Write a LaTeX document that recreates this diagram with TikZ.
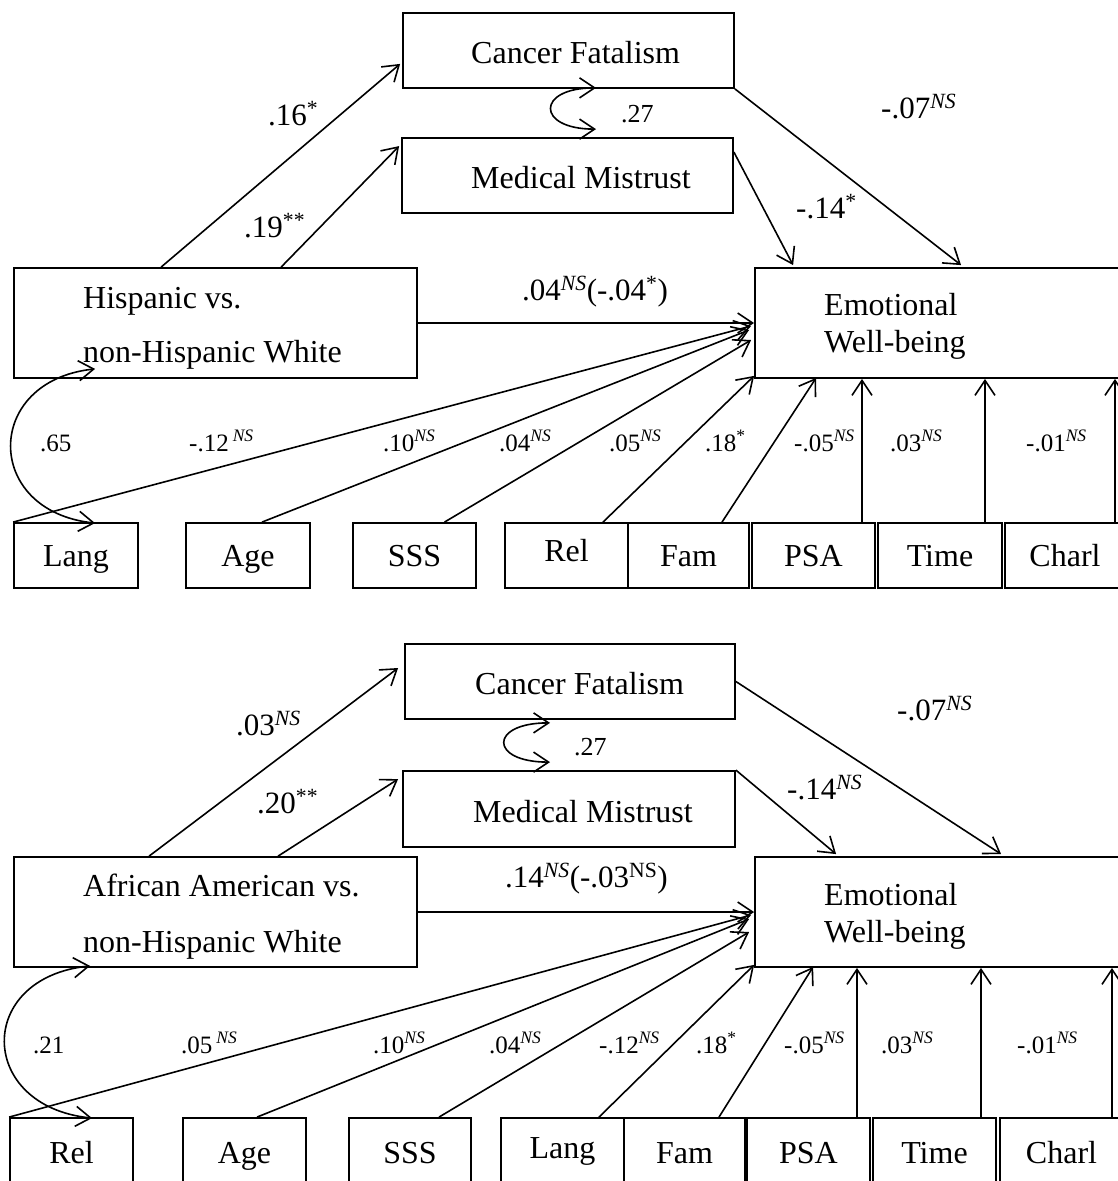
\documentclass[tikz,border=0pt]{standalone}
\usepackage{fontspec}
\setmainfont{Liberation Serif}
\usetikzlibrary{arrows.meta,calc}
% font sizes for box texts, path coefficients and covariate coefficients
\newcommand\fsMain{\fontsize{32}{38}\selectfont}
\newcommand\fsCoef{\fontsize{31}{37}\selectfont}
\newcommand\fsCov{\fontsize{26}{31}\selectfont}
\newcommand\fsSmall{\fontsize{25}{30}\selectfont}
\newcommand\nsIt{\textsuperscript{\itshape NS}}
\newcommand\nsUp{\textsuperscript{NS}}
\newcommand\sigmark[1]{\textsuperscript{#1}}
\begin{document}
\begin{tikzpicture}[x=1pt,y=-1pt,
  box/.style 2 args={draw, line width=1.8pt, inner sep=0pt,
    minimum width=#1pt, minimum height=#2pt},
  wrd/.style={inner sep=0pt, anchor=base west, font=\fsMain},
  boxtxt/.style={inner sep=0pt, anchor=base, font=\fsMain},
  coef/.style={inner sep=0pt, anchor=base west, font=\fsCoef},
  covlbl/.style={inner sep=0pt, anchor=base west, font=\fsCov},
  small/.style={inner sep=0pt, anchor=base west, font=\fsSmall},
  arr/.style={line width=1.6pt, -{Straight Barb[length=15pt,width=20pt]}},
  cov/.style={line width=1.6pt,
    {Straight Barb[length=15pt,width=20pt]}-{Straight Barb[length=15pt,width=20pt]}}]

\useasboundingbox (0,0) rectangle (1118,1181);
\fill[white] (0,0) rectangle (1118,1181);
\clip (0,0) rectangle (1118,1181);

% ================= Hispanic model =================
\node[box={331}{75}]  (cf1)  at (568.5,50.5) {};
\node[box={331}{75}]  (mm1)  at (567.5,175.5) {};
\node[box={403}{110}] (hisp) at (215.5,323) {};
\node[box={375}{110}] (ewb1) at (942.5,323) {};

\node[wrd] (cf1-t)   at (471,63)  {Cancer Fatalism};
\node[wrd] (mm1-t)   at (471,188) {Medical Mistrust};
\node[wrd] (hisp-t1) at (83,308)  {Hispanic vs.};
\node[wrd] (hisp-t2) at (83,362)  {non-Hispanic White};
\node[wrd] (ewb1-t1) at (824,315) {Emotional};
\node[wrd] (ewb1-t2) at (824,352) {Well-being};

% covariates
\node[box={124}{65}] (lang1)  at (76,555.5)   {};
\node[box={124}{65}] (age1)   at (248,555.5)  {};
\node[box={123}{65}] (sss1)   at (414.5,555.5){};
\node[box={123}{65}] (rel1)   at (566.5,555.5){};
\node[box={121}{65}] (fam1)   at (688.5,555.5){};
\node[box={123}{65}] (psa1)   at (813.5,555.5){};
\node[box={124}{65}] (time1)  at (940,555.5)  {};
\node[box={120}{65}] (charl1) at (1065,555.5) {};

\node[boxtxt] (lang1-t)  at (76,566)    {Lang};
\node[boxtxt] (age1-t)   at (248,566)   {Age};
\node[boxtxt] (sss1-t)   at (414.5,566) {SSS};
\node[boxtxt] (rel1-t)   at (566.5,561) {Rel};
\node[boxtxt] (fam1-t)   at (688.5,566) {Fam};
\node[boxtxt] (psa1-t)   at (813.5,566) {PSA};
\node[boxtxt] (time1-t)  at (940,566)   {Time};
\node[boxtxt] (charl1-t) at (1065,566)  {Charl};

% paths
\draw[arr] ($(hisp.north west)+(148,0)$) -- ($(cf1.south west)+(-2,-25)$);
\draw[arr] ($(hisp.north west)+(268,0)$) -- ($(mm1.north west)+(-2,9)$);
\draw[arr] (cf1.south east) -- ($(ewb1.north west)+(207,-2)$);
\draw[arr] ($(mm1.north east)+(0,15)$) -- ($(ewb1.north west)+(39,-2)$);
\draw[arr] (hisp.east) -- (ewb1.west);
\draw[cov] ($(cf1.south)+(27.5,-1)$) .. controls +(-60,0) and +(-60,0) .. ($(mm1.north)+(28.5,-8)$);
\draw[cov] ($(hisp.south west)+(82,-10)$) .. controls +(-112,12) and +(-112,-12) .. ($(lang1.north west)+(82,1)$);

\draw[arr] (lang1.north west) -- ($(ewb1.west)+(-3,3)$);
\draw[arr] ($(age1.north)+(14,0)$) -- ($(ewb1.west)+(-5,7)$);
\draw[arr] ($(sss1.north)+(30,0)$) -- ($(ewb1.west)+(-3,17)$);
\draw[arr] ($(rel1.north)+(36.5,0)$) -- ($(ewb1.south west)+(0,-3)$);
\draw[arr] ($(fam1.north)+(33.5,0)$) -- ($(ewb1.south west)+(62,-1)$);
\coordinate (psa1-o)   at ($(psa1.north)+(48.5,0)$);
\coordinate (time1-o)  at ($(time1.north)+(45,0)$);
\coordinate (charl1-o) at ($(charl1.north)+(50,0)$);
\draw[arr] (psa1-o)   -- (psa1-o |- ewb1.south);
\draw[arr] (time1-o)  -- (time1-o |- ewb1.south);
\draw[arr] (charl1-o) -- (charl1-o |- ewb1.south);

% coefficients
\node[coef] (c-hcf1) at (268,125) {.16\sigmark{*}};
\node[coef] (c-hmm1) at (244,237) {.19\sigmark{**}};
\node[coef] (c-cfe1) at (881,118) {-.07\nsIt};
\node[coef] (c-mme1) at (796,218) {-.14\sigmark{*}};
\node[coef] (c-he1)  at (522,300) {.04\nsIt(-.04\sigmark{*})};
\node[covlbl] (c-cov1) at (621,122) {.27};
\node[small] (s-cov1)  at (40,451)   {.65};
\node[small] (s-lang1) at (189,451)  {-.12\hspace{4pt}\nsIt};
\node[small] (s-age1)  at (383,451)  {.10\nsIt};
\node[small] (s-sss1)  at (499,451)  {.04\nsIt};
\node[small] (s-rel1)  at (609,451)  {.05\nsIt};
\node[small] (s-fam1)  at (705,451)  {.18\sigmark{*}};
\node[small] (s-psa1)  at (794,451)  {-.05\nsIt};
\node[small] (s-time1) at (890,451)  {.03\nsIt};
\node[small] (s-chr1)  at (1026,451) {-.01\nsIt};

% ================= African American model =================
\node[box={330}{75}]  (cf2) at (570,681.5) {};
\node[box={332}{76}]  (mm2) at (569,809) {};
\node[box={403}{110}] (aa)  at (215.5,912) {};
\node[box={375}{110}] (ewb2) at (942.5,912) {};

\node[wrd] (cf2-t)   at (475,694) {Cancer Fatalism};
\node[wrd] (mm2-t)   at (473,822) {Medical Mistrust};
\node[wrd] (aa-t1)   at (83,896)  {African American vs.};
\node[wrd] (aa-t2)   at (83,952)  {non-Hispanic White};
\node[wrd] (ewb2-t1) at (824,905) {Emotional};
\node[wrd] (ewb2-t2) at (824,942) {Well-being};

\node[box={123}{72}] (rel2)   at (71.5,1154)  {};
\node[box={123}{72}] (age2)   at (244.5,1154) {};
\node[box={122}{72}] (sss2)   at (410,1154)   {};
\node[box={123}{72}] (lang2)  at (562.5,1154) {};
\node[box={121}{72}] (fam2)   at (684.5,1154) {};
\node[box={123}{72}] (psa2)   at (808.5,1154) {};
\node[box={123}{72}] (time2)  at (934.5,1154) {};
\node[box={123}{72}] (charl2) at (1061.5,1154){};

\node[boxtxt] (rel2-t)   at (71.5,1163)  {Rel};
\node[boxtxt] (age2-t)   at (244.5,1163) {Age};
\node[boxtxt] (sss2-t)   at (410,1163)   {SSS};
\node[boxtxt] (lang2-t)  at (562.5,1158) {Lang};
\node[boxtxt] (fam2-t)   at (684.5,1163) {Fam};
\node[boxtxt] (psa2-t)   at (808.5,1163) {PSA};
\node[boxtxt] (time2-t)  at (934.5,1163) {Time};
\node[boxtxt] (charl2-t) at (1061.5,1163){Charl};

\draw[arr] ($(aa.north west)+(136,0)$) -- ($(cf2.west)+(-6,-13.5)$);
\draw[arr] ($(aa.north west)+(265,0)$) -- ($(mm2.north west)+(-4,9)$);
\draw[arr] (cf2.east) -- ($(ewb2.north west)+(247,-2)$);
\draw[arr] (mm2.north east) -- ($(ewb2.north west)+(82,-2)$);
\draw[arr] (aa.east) -- (ewb2.west);
\draw[cov] ($(cf2.south)+(-20,3)$) .. controls +(-61,0) and +(-61,0) .. ($(mm2.north)+(-19,-8)$);
\draw[cov] ($(aa.south west)+(77,-2)$) .. controls +(-115,12) and +(-115,-12) .. ($(rel2.north west)+(83,1)$);

\draw[arr] (rel2.north west) -- ($(ewb2.west)+(-3,3)$);
\draw[arr] ($(age2.north)+(12.5,0)$) -- ($(ewb2.west)+(-5,7)$);
\draw[arr] ($(sss2.north)+(29,0)$) -- ($(ewb2.west)+(-5,20)$);
\draw[arr] ($(lang2.north)+(36.5,0)$) -- ($(ewb2.south west)+(0,-3)$);
\draw[arr] ($(fam2.north)+(34.5,0)$) -- ($(ewb2.south west)+(59,-1)$);
\coordinate (psa2-o)   at ($(psa2.north)+(48.5,0)$);
\coordinate (time2-o)  at ($(time2.north)+(46.5,0)$);
\coordinate (charl2-o) at ($(charl2.north)+(50.5,0)$);
\draw[arr] (psa2-o)   -- (psa2-o |- ewb2.south);
\draw[arr] (time2-o)  -- (time2-o |- ewb2.south);
\draw[arr] (charl2-o) -- (charl2-o |- ewb2.south);

\node[coef] (c-acf2) at (236,735) {.03\nsIt};
\node[coef] (c-amm2) at (257,813) {.20\sigmark{**}};
\node[coef] (c-cfe2) at (897,720) {-.07\nsIt};
\node[coef] (c-mme2) at (787,799) {-.14\nsIt};
\node[coef] (c-ae2)  at (505,887) {.14\nsIt(-.03\nsUp)};
\node[covlbl] (c-cov2) at (574,755) {.27};
\node[small] (s-cov2)  at (33,1053)   {.21};
\node[small] (s-rel2)  at (181,1053)  {.05\hspace{4pt}\nsIt};
\node[small] (s-age2)  at (373,1053)  {.10\nsIt};
\node[small] (s-sss2)  at (489,1053)  {.04\nsIt};
\node[small] (s-lang2) at (599,1053)  {-.12\nsIt};
\node[small] (s-fam2)  at (696,1053)  {.18\sigmark{*}};
\node[small] (s-psa2)  at (784,1053)  {-.05\nsIt};
\node[small] (s-time2) at (881,1053)  {.03\nsIt};
\node[small] (s-chr2)  at (1017,1053) {-.01\nsIt};
\end{tikzpicture}
\end{document}
